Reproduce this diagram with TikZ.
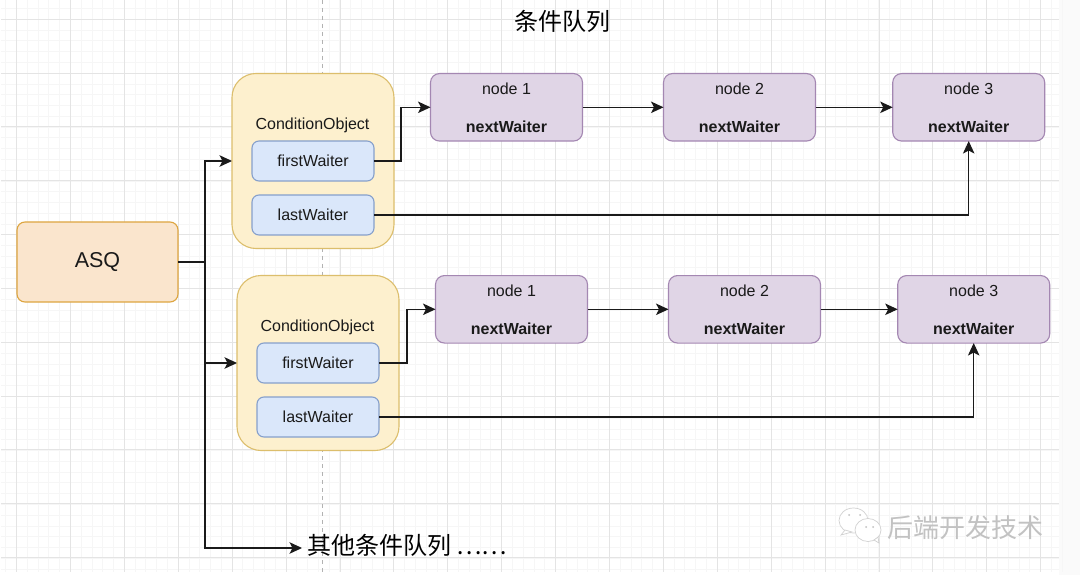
\documentclass[tikz,border=0pt]{standalone}
\usepackage{fontspec}
\setmainfont{Liberation Sans}
\newfontfamily\cjk{Noto Sans CJK SC}
\usetikzlibrary{arrows.meta,positioning,calc}
\definecolor{gmaj}{HTML}{E4E4E4}
\definecolor{gmin}{HTML}{F6F6F6}
\definecolor{ofill}{HTML}{FAE5CD}
\definecolor{odraw}{HTML}{DDA540}
\definecolor{yfill}{HTML}{FDF0CE}
\definecolor{ydraw}{HTML}{DCBE6C}
\definecolor{bfill}{HTML}{DAE7FA}
\definecolor{bdraw}{HTML}{86A0CB}
\definecolor{pfill}{HTML}{E0D5E6}
\definecolor{pdraw}{HTML}{A487B2}
\definecolor{ink}{HTML}{1A1A1A}
\tikzset{
 x=1pt,y=-1pt,
 box/.style={draw,line width=1.1pt,rounded corners=#1,inner sep=0pt,outer sep=0pt,align=center,text=ink},
 asqbox/.style={box=8pt,fill=ofill,draw=odraw,minimum width=161pt,minimum height=80pt,font=\fontsize{21.5}{24}\selectfont},
 group/.style={box=24pt,fill=yfill,draw=ydraw,minimum width=162pt,minimum height=175pt},
 field/.style={box=7pt,fill=bfill,draw=bdraw,minimum width=122pt,minimum height=40pt,font=\fontsize{16}{18}\selectfont},
 qnode/.style={box=9pt,fill=pfill,draw=pdraw,minimum width=152pt,minimum height=67.5pt,font=\fontsize{16}{19}\selectfont},
 plain/.style={inner sep=0pt,outer sep=0pt,text=black},
 link/.style={draw=ink,line width=1.1pt,-{Stealth[length=12.5pt,width=11.5pt,inset=3pt]}},
 wire/.style={draw=ink,line width=1.1pt},
}
\newcommand{\nodetext}[1]{#1\\[0pt]\strut\\[0pt]\textbf{nextWaiter}}
\begin{document}
\begin{tikzpicture}
\useasboundingbox (0,0) rectangle (1080,575);
\fill[white] (0,0) rectangle (1080,575);
\fill[black!2] (1059,0) rectangle (1080,575);
% grid
\foreach \i in {0,...,98}{\draw[gmin,line width=.8pt] ({5.7+10.78*\i},0) -- ({5.7+10.78*\i},572);}
\foreach \i in {0,...,52}{\draw[gmin,line width=.8pt] (1,{8.5+10.78*\i}) -- (1059,{8.5+10.78*\i});}
\foreach \i in {0,...,19}{\draw[gmaj,line width=.8pt] ({16.5+53.9*\i},0) -- ({16.5+53.9*\i},572);}
\foreach \i in {0,...,10}{\draw[gmaj,line width=.8pt] (1,{19.3+53.8*\i}) -- (1059,{19.3+53.8*\i});}
\coordinate (guideT) at (322.5,0);
\coordinate (guideB) at (322.5,575);
\draw[black!30,line width=.8pt,dash pattern=on 4pt off 4pt] (guideT) -- (guideB);
% title
\node[plain,font=\cjk\fontsize{24}{28}\selectfont] (title) at (562,21) {条件队列};
% ASQ
\node[asqbox] (asq) at (97.5,262) {ASQ};
% group 1
\node[group] (g1) at (313,161) {};
\node[plain,font=\fontsize{16}{18}\selectfont,text=ink] (c1) at (312.5,125) {ConditionObject};
\node[field] (f1) at (313,161) {firstWaiter};
\node[field] (l1) at (313,215) {lastWaiter};
\node[qnode] (a1) at (506.5,107.3) {\nodetext{node 1}};
\node[qnode] (a2) at (739.5,107.3) {\nodetext{node 2}};
\node[qnode] (a3) at (968.7,107.3) {\nodetext{node 3}};
% group 2
\node[group] (g2) at (318,363) {};
\node[plain,font=\fontsize{16}{18}\selectfont,text=ink] (c2) at (317.5,327) {ConditionObject};
\node[field] (f2) at (318,363) {firstWaiter};
\node[field] (l2) at (318,417) {lastWaiter};
\node[qnode] (b1) at (511.5,309.3) {\nodetext{node 1}};
\node[qnode] (b2) at (744.5,309.3) {\nodetext{node 2}};
\node[qnode] (b3) at (973.7,309.3) {\nodetext{node 3}};
% other queues
\node[plain,anchor=west,font=\cjk\fontsize{24}{28}\selectfont] (more) at (307,545) {其他条件队列 ……};
% connectors
\coordinate (bus) at (205,262);
\draw[wire] (asq.east) -- (bus);
\draw[link] (bus) |- (g1.west);
\draw[link] (bus) |- (g2.west);
\draw[link] (bus) |- ($(more.west)+(-5,3)$);
\draw[link] (f1.east) -- ++(27,0) |- (a1.west);
\draw[link] (a1) -- (a2);
\draw[link] (a2) -- (a3);
\draw[link] (l1.east) -| (a3.south);
\draw[link] (f2.east) -- ++(28,0) |- (b1.west);
\draw[link] (b1) -- (b2);
\draw[link] (b2) -- (b3);
\draw[link] (l2.east) -| (b3.south);
% watermark
\begin{scope}[draw=black!18,fill=white,line width=.7pt]
\filldraw (853.5,520.5) ellipse [x radius=14.5pt,y radius=12.5pt];
\filldraw (845,530) -- (841,535) -- (852,532) -- cycle;
\filldraw (868,530) ellipse [x radius=13pt,y radius=11.5pt];
\filldraw (874,540) -- (879,543) -- (878,537) -- cycle;
\fill[black!25] (849,515) circle (1pt) (860,515) circle (1pt) (866,527) circle (1pt) (873,527) circle (1pt);
\end{scope}
\node[plain,font=\cjk\fontsize{26}{30}\selectfont,text=black!24] (wm) at (965,528) {后端开发技术};
\end{tikzpicture}
\end{document}
